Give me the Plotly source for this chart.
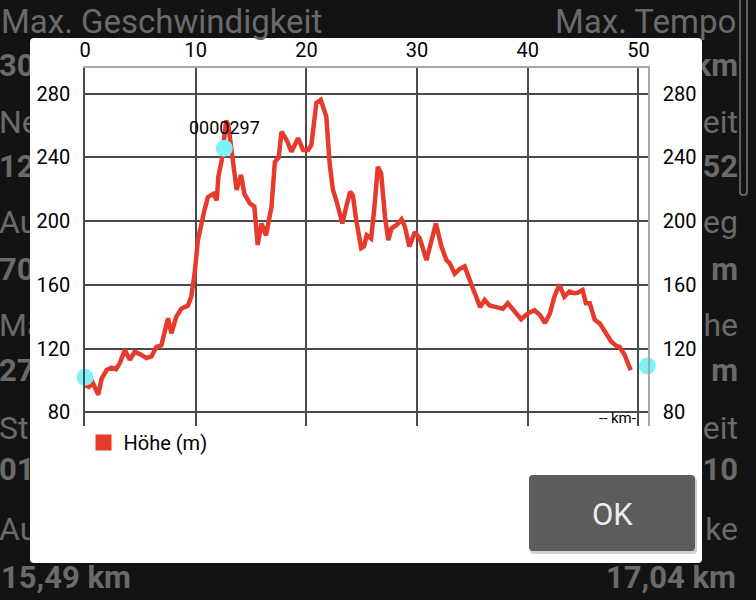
import plotly.graph_objects as go

# elevation profile (km, m)
dist_km = [0.0, 0.35, 0.7, 1.05, 1.2, 1.5, 1.95, 2.4, 2.8, 3.15, 3.6, 4.05, 4.5, 5.1, 5.55,
           6.0, 6.45, 6.9, 7.5, 7.8, 8.25, 8.7, 9.3, 9.6, 9.9, 10.2, 10.5, 10.8, 11.1, 11.6,
           11.9, 12.05, 12.35, 12.6, 12.75, 12.95, 13.25, 13.45, 13.7, 14.1, 14.4, 14.9, 15.3,
           15.6, 15.95, 16.35, 16.85, 17.15, 17.5, 17.75, 18.2, 18.65, 19.25, 19.7, 20.15,
           20.45, 20.9, 21.3, 21.8, 22.1, 22.4, 22.7, 23.25, 23.6, 23.95, 24.2, 24.5, 24.95,
           25.2, 25.45, 25.85, 26.15, 26.45, 26.75, 27.1, 27.4, 27.7, 28.15, 28.6, 28.9, 29.3,
           29.8, 30.25, 30.85, 31.3, 31.7, 32.2, 32.65, 32.95, 33.4, 33.85, 34.3, 34.75, 35.2,
           35.7, 36.1, 36.55, 37.15, 37.75, 38.2, 38.8, 39.4, 40.0, 40.6, 41.1, 41.55, 42.0,
           42.4, 42.8, 42.95, 43.3, 43.75, 44.2, 44.5, 44.95, 45.25, 45.6, 46.05, 46.5, 47.1,
           47.55, 48.0, 48.3, 48.75, 49.05, 49.3]
hoehe_m = [97, 96, 98.5, 93, 91, 101, 106.5, 108, 107, 111, 119, 113, 118, 116, 114,
           115, 121, 122, 139, 129.5, 140, 145, 147, 152.5, 167, 188, 198.5, 207, 215, 217,
           213, 228, 238, 255, 263, 260, 243.5, 232, 219.5, 229, 217, 211, 209,
           185, 198.5, 191, 209, 237, 240, 256, 251, 243.5, 252, 244.5, 244.5,
           247.7, 274, 276, 265.5, 236, 219.5, 213, 198.5, 209, 218.4, 216, 200.6, 183,
           184, 191, 189, 209, 234, 230, 202.7, 188, 195.5, 197.5, 201, 196.5, 184,
           193, 189, 175.5, 188, 198.5, 184, 175.5, 173.5, 167, 170, 171.5, 163, 154.6,
           146, 150.5, 147, 146, 145, 148.4, 143, 138.4, 142, 144, 141, 136, 142,
           152.5, 159, 158.5, 152.5, 155.7, 154.7, 155, 156.7, 148.4, 148.4, 138, 135.8, 128.5,
           124.3, 121.6, 121, 116, 110.3, 106.5]

# slider handles
handle_km = [0.0, 12.58, 50.8]
handle_m = [102, 245.6, 109]
handle_label = "0000297"

x_ticks = [0, 10, 20, 30, 40, 50]
y_ticks = [80, 120, 160, 200, 240, 280]

# texts of the screen behind the dialog
left_labels = ["Ne", "Au", "Ma", "Ste", "Au"]
left_values = ["30", "12", "70", "27", "01"]
right_labels = ["eit", "eg", "he", "eit", "ke"]
right_values = ["km", "52", "m", "m", "10"]
label_rows = [125, 225, 328, 431, 532]
value_rows = [68, 169, 272, 373, 472]

W, H = 756, 600
RED = '#e53a2c'
BG = '#131313'
GREY_TXT = '#6a6a6a'
Y_RANGE = [71.4, 296]


def px(x):
    return x / W


def py(y):
    return 1 - y / H


def rounded_rect(x0, y0, x1, y1, r):
    a, b, c, d = px(x0), py(y0), px(x1), py(y1)
    rx, ry = r / W, r / H
    return (f"M{a+rx},{b} L{c-rx},{b} Q{c},{b} {c},{b-ry} L{c},{d+ry} Q{c},{d} {c-rx},{d} "
            f"L{a+rx},{d} Q{a},{d} {a},{d+ry} L{a},{b-ry} Q{a},{b} {a+rx},{b} Z")


def paper_text(x, y, text, size=31, color=GREY_TXT, xanchor='center', weight='normal'):
    return dict(x=px(x), y=py(y), xref='paper', yref='paper', text=text, showarrow=False,
                xanchor=xanchor, yanchor='middle',
                font=dict(family='Roboto', size=size, color=color, weight=weight))


fig = go.Figure()

fig.add_trace(go.Scatter(x=dist_km, y=hoehe_m, mode='lines', showlegend=False,
                         line=dict(color=RED, width=4.5), hoverinfo='skip'))
# same data on the right-hand axis so that it gets drawn
fig.add_trace(go.Scatter(x=dist_km, y=hoehe_m, mode='lines', yaxis='y2', showlegend=False,
                         line=dict(color='rgba(0,0,0,0)', width=0), hoverinfo='skip'))
fig.add_trace(go.Scatter(x=handle_km, y=handle_m, mode='markers', showlegend=False,
                         marker=dict(size=17, color='#7df3f7'), cliponaxis=False,
                         hoverinfo='skip'))
fig.add_trace(go.Scatter(x=[None], y=[None], mode='markers', name='Höhe (m)',
                         marker=dict(symbol='square', size=16, color=RED)))

# background strips (clipped at the dialog edges)
fig.add_trace(go.Scatter(x=[-1] * 5, y=label_rows, text=left_labels, mode='text',
                         textposition='middle right', xaxis='x3', yaxis='y3',
                         textfont=dict(family='Roboto', size=32, color=GREY_TXT),
                         showlegend=False, hoverinfo='skip'))
fig.add_trace(go.Scatter(x=[-1] * 5, y=value_rows, text=left_values, mode='text',
                         textposition='middle right', xaxis='x3', yaxis='y3',
                         textfont=dict(family='Roboto', size=31, color=GREY_TXT, weight='bold'),
                         showlegend=False, hoverinfo='skip'))
fig.add_trace(go.Scatter(x=[738] * 5, y=label_rows, text=right_labels, mode='text',
                         textposition='middle left', xaxis='x4', yaxis='y4',
                         textfont=dict(family='Roboto', size=32, color=GREY_TXT),
                         showlegend=False, hoverinfo='skip'))
fig.add_trace(go.Scatter(x=[738] * 5, y=value_rows, text=right_values, mode='text',
                         textposition='middle left', xaxis='x4', yaxis='y4',
                         textfont=dict(family='Roboto', size=31, color=GREY_TXT, weight='bold'),
                         showlegend=False, hoverinfo='skip'))

tick_font = dict(family='Roboto', size=20, color='black')
grid = dict(showgrid=True, gridcolor='#4a4a4a', gridwidth=1.5, zeroline=False)

fig.update_layout(
    width=W, height=H, margin=dict(l=0, r=0, t=0, b=0, autoexpand=False),
    paper_bgcolor=BG, plot_bgcolor=BG,
    xaxis=dict(domain=[px(85), px(648)], range=[0, 50.86], side='top', anchor='y',
               tickvals=x_ticks, tickfont=tick_font, ticks='', ticklabelstandoff=1,
               showline=True, linecolor='#a8a8a8', linewidth=1.5, automargin=False, **grid),
    yaxis=dict(domain=[py(426), py(68)], range=Y_RANGE, anchor='x',
               tickvals=y_ticks, tickfont=tick_font, ticks='', ticklabelstandoff=9,
               showline=True, linecolor='#4a4a4a', linewidth=1.5, automargin=False, **grid),
    yaxis2=dict(overlaying='y', range=Y_RANGE, side='right', anchor='x',
                tickvals=y_ticks, tickfont=tick_font, ticks='', ticklabelstandoff=9,
                showgrid=False, zeroline=False, automargin=False,
                showline=True, linecolor='#a8a8a8', linewidth=1.5),
    xaxis3=dict(domain=[0, px(30)], range=[0, 30], visible=False, anchor='y3'),
    yaxis3=dict(domain=[0, 1], range=[H, 0], visible=False, anchor='x3'),
    xaxis4=dict(domain=[px(702), 1], range=[702, 756], visible=False, anchor='y4'),
    yaxis4=dict(domain=[0, 1], range=[H, 0], visible=False, anchor='x4'),
    legend=dict(x=px(83.5), y=py(423), xanchor='left', yanchor='top',
                bgcolor='rgba(0,0,0,0)', font=dict(family='Roboto', size=20, color='black')),
    shapes=[
        dict(type='path', xref='paper', yref='paper', layer='below',
             path=rounded_rect(30, 38, 702, 563, 4), fillcolor='white', line=dict(width=0)),
        dict(type='path', xref='paper', yref='paper', layer='above',
             path=rounded_rect(530, 477, 697, 554, 4), fillcolor='rgba(0,0,0,0.18)',
             line=dict(width=0)),
        dict(type='path', xref='paper', yref='paper', layer='above',
             path=rounded_rect(529, 475, 695, 551, 4), fillcolor='#5c5c5c', line=dict(width=0)),
        dict(type='path', xref='paper', yref='paper', layer='above',
             path=rounded_rect(740, -10, 747, 195, 3), fillcolor=BG,
             line=dict(color='#7a7a7a', width=1.5)),
    ],
    annotations=[
        dict(x=handle_km[1], y=handle_m[1], xref='x', yref='y', text=handle_label,
             showarrow=False, yshift=21, font=dict(family='Roboto', size=18, color='black')),
        paper_text(617, 418, '-- km-', size=15, color='black'),
        paper_text(612, 514, 'OK', size=31, color='#ececec'),
        paper_text(-1, 21, 'Max. Geschwindigkeit', size=33, xanchor='left'),
        paper_text(738, 21, 'Max. Tempo', size=33, xanchor='right'),
        paper_text(-1, 577, '15,49 km', xanchor='left', weight='bold'),
        paper_text(738, 577, '17,04 km', xanchor='right', weight='bold'),
    ],
)

fig.write_html("out.html", config={'displayModeBar': False},
               post_script="document.body.style.margin='0';document.body.style.background='#131313';")
